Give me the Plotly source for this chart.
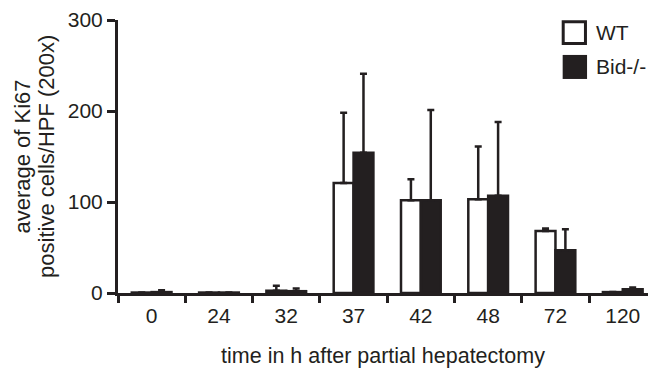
import plotly.graph_objects as go

times = ["0", "24", "32", "37", "42", "48", "72", "120"]
wt_mean = [0.5, 0.5, 2.5, 121, 102, 103, 68, 1]
wt_err = [0, 0, 5.5, 77, 23, 58, 3, 0]
bid_mean = [1, 0.5, 2, 154, 102, 107, 47, 4]
bid_err = [2, 0, 3, 87, 99, 81, 23, 2]
y_ticks = [0, 100, 200, 300]
y_title_lines = ["average of Ki67", "positive cells/HPF (200x)"]

INK = "#231f20"
FONT = "Liberation Sans, Arial, sans-serif"
pos = list(range(len(times)))

fig = go.Figure()
fig.add_trace(go.Bar(
    x=pos, y=wt_mean, name="WT",
    marker=dict(color="white", line=dict(color=INK, width=2.5)),
    error_y=dict(type="data", symmetric=False, array=wt_err,
                 arrayminus=[0] * len(wt_err), color=INK, thickness=2.5, width=3.5),
    showlegend=False,
))
fig.add_trace(go.Bar(
    x=pos, y=bid_mean, name="Bid-/-",
    marker=dict(color=INK, line=dict(color=INK, width=2.5)),
    error_y=dict(type="data", symmetric=False, array=bid_err,
                 arrayminus=[0] * len(bid_err), color=INK, thickness=2.5, width=3.5),
    showlegend=False,
))

fig.update_layout(
    width=648, height=370,
    margin=dict(l=118, r=0, t=20, b=77),
    paper_bgcolor="white", plot_bgcolor="white",
    barmode="group", bargap=0.41, bargroupgap=0,
    font=dict(family=FONT, color=INK, size=21),
)
fig.update_xaxes(
    range=[-0.5, 7.375],
    tickmode="array", tickvals=pos, ticktext=times, ticks="",
    tickfont=dict(size=21, family=FONT, color=INK),
    ticklabelstandoff=2,
    showline=True, linecolor=INK, linewidth=3,
    showgrid=False, zeroline=False,
    minor=dict(tickmode="linear", tick0=-0.5, dtick=1, ticks="outside",
               ticklen=7, tickwidth=3, tickcolor=INK, showgrid=False),
    title=dict(text="time in h after partial hepatectomy",
               font=dict(size=21.5, family=FONT, color=INK), standoff=22),
)
fig.update_yaxes(
    range=[0, 300], tickvals=y_ticks,
    ticks="outside", ticklen=8, tickwidth=3, tickcolor=INK,
    tickfont=dict(size=21, family=FONT, color=INK),
    showline=True, linecolor=INK, linewidth=3,
    showgrid=False, zeroline=False,
)

# y-axis title as two rotated lines (tighter line spacing than a <br> title)
for txt, xp in zip(y_title_lines, [-0.181, -0.135]):
    fig.add_annotation(text=txt, xref="paper", yref="paper", x=xp, y=0.5,
                       xanchor="center", yanchor="middle", textangle=-90,
                       showarrow=False, font=dict(size=22, family=FONT, color=INK))

# legend drawn as swatches + labels in paper coordinates
fig.add_shape(type="rect", xref="paper", yref="paper",
              x0=0.840, x1=0.882, y0=0.914, y1=0.994,
              line=dict(color=INK, width=3), fillcolor="white")
fig.add_shape(type="rect", xref="paper", yref="paper",
              x0=0.839, x1=0.885, y0=0.784, y1=0.872,
              line=dict(color=INK, width=0), fillcolor=INK)
fig.add_annotation(text="WT", xref="paper", yref="paper", x=0.898, y=0.956,
                   xanchor="left", yanchor="middle", showarrow=False,
                   font=dict(size=21, family=FONT, color=INK))
fig.add_annotation(text="Bid-/-", xref="paper", yref="paper", x=0.898, y=0.828,
                   xanchor="left", yanchor="middle", showarrow=False,
                   font=dict(size=21, family=FONT, color=INK))

fig.write_html("out.html", config={"displayModeBar": False},
               post_script="document.body.style.margin='0';")
